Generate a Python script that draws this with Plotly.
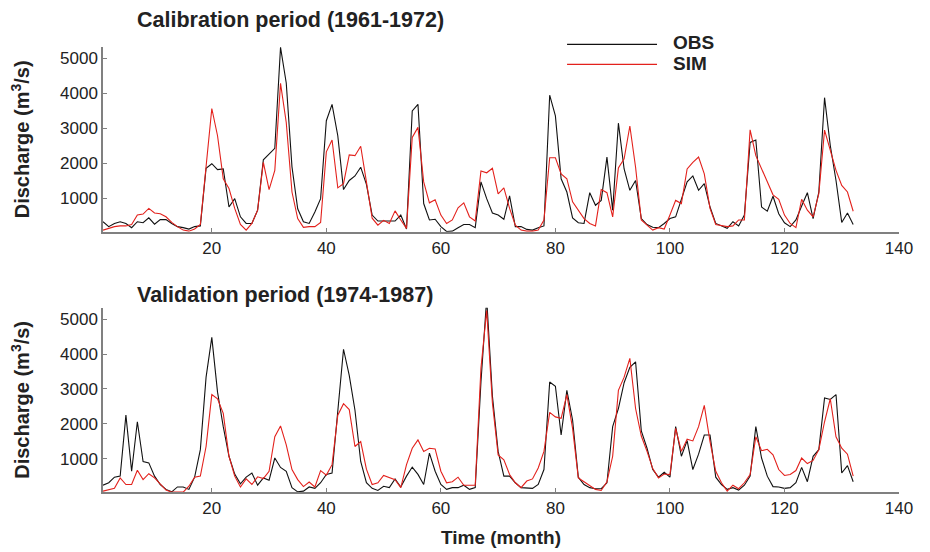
import plotly.graph_objects as go
from plotly.subplots import make_subplots

## dados (vazao mensal, m3/s)
meses = list(range(1, 133))

cal_obs = [330, 190, 280, 330, 280, 160, 330, 300, 440, 260, 390, 390, 280, 190, 160, 120, 190, 210,
           1860, 1990, 1820, 1840, 750, 990, 470, 280, 280, 660, 2100, 2270, 2430, 5320, 4300, 1900,
           700, 330, 280, 610, 990, 3220, 3690, 2790, 1250, 1510, 1640, 1890, 1400, 520, 350, 350,
           350, 350, 520, 120, 3500, 3690, 850, 380, 400, 190, 50, 60, 160, 250, 250, 160, 1470, 990,
           580, 520, 400, 1070, 190, 190, 110, 90, 160, 210, 3950, 3360, 1560, 1180, 440, 300, 280,
           1160, 800, 940, 2180, 660, 3150, 1840, 1230, 1510, 420, 250, 170, 160, 280, 420, 470, 990,
           1470, 1640, 1230, 1420, 750, 280, 210, 140, 330, 210, 520, 2600, 2670, 750, 630, 1060, 560,
           300, 190, 380, 780, 1160, 420, 1180, 3880, 2510, 1510, 310, 580, 250]

cal_sim = [90, 140, 190, 210, 210, 250, 520, 550, 710, 580, 560, 470, 310, 190, 90, 60, 120, 250,
           1840, 3570, 2790, 1560, 1280, 710, 250, 90, 280, 660, 2030, 1250, 1800, 4290, 3170, 1180,
           420, 170, 190, 190, 310, 2330, 2670, 1300, 1420, 2240, 2220, 2490, 1470, 430, 230, 370,
           280, 640, 380, 140, 2740, 3030, 1470, 870, 960, 520, 280, 380, 730, 870, 470, 350, 1780,
           1730, 1860, 1130, 1300, 710, 230, 90, 60, 60, 90, 380, 2160, 2160, 1700, 1560, 900, 660,
           420, 280, 210, 1250, 1160, 470, 1870, 2130, 3070, 1890, 380, 230, 90, 160, 120, 520, 940,
           850, 1840, 2030, 2180, 1700, 710, 250, 210, 190, 210, 380, 380, 2960, 2220, 1840, 1510,
           1100, 970, 520, 280, 160, 970, 660, 470, 1130, 2950, 2410, 1800, 1370, 1180, 630]

val_obs = [240, 310, 470, 500, 2250, 640, 2060, 920, 880, 500, 260, 120, 50, 190, 190, 120, 470, 1260,
           3340, 4480, 2910, 1920, 1070, 560, 280, 470, 590, 240, 450, 380, 1020, 750, 640, 170, 50,
           70, 190, 150, 310, 550, 590, 2390, 4140, 3390, 2390, 920, 310, 150, 90, 210, 170, 420, 190,
           500, 760, 550, 260, 1160, 640, 260, 120, 170, 170, 240, 120, 170, 3200, 5600, 2800, 1210,
           500, 500, 310, 170, 150, 150, 260, 690, 3200, 3080, 1680, 2960, 2110, 470, 260, 170, 140,
           140, 310, 1920, 2440, 3180, 3620, 3780, 1800, 1300, 690, 470, 610, 470, 1920, 1070, 1520,
           690, 1130, 1680, 1680, 470, 260, 120, 170, 100, 240, 500, 1920, 1020, 500, 200, 190, 150,
           170, 310, 750, 340, 1070, 1260, 2740, 2700, 2840, 590, 800, 340]

val_sim = [70, 120, 150, 450, 260, 260, 670, 400, 570, 450, 280, 100, 40, 40, 40, 210, 470, 500,
           1350, 2840, 2720, 2300, 1070, 500, 190, 420, 260, 480, 430, 640, 1630, 1940, 1400, 690,
           400, 200, 330, 190, 660, 530, 830, 2250, 2580, 2410, 1350, 1490, 700, 260, 310, 520, 470,
           400, 170, 830, 1300, 1540, 1210, 1300, 1280, 640, 310, 340, 470, 240, 240, 240, 3600, 5250,
           2600, 1110, 970, 545, 310, 170, 360, 420, 735, 1210, 2330, 2200, 2160, 2840, 1870, 450,
           340, 240, 120, 90, 340, 1070, 2960, 3340, 3880, 2440, 1650, 1210, 715, 450, 560, 545, 1870,
           1210, 1560, 1510, 1920, 2530, 1490, 640, 310, 70, 240, 140, 310, 545, 1630, 1230, 1270,
           1110, 690, 520, 545, 660, 1020, 860, 950, 1260, 2060, 2720, 1630, 1300, 1130, 500]

x_ticks = [20, 40, 60, 80, 100, 120, 140]
y_ticks = [1000, 2000, 3000, 4000, 5000]

## figura
fig = make_subplots(rows=2, cols=1)

fonte = "Liberation Sans Narrow, Arial Narrow, Liberation Sans, Arial, sans-serif"
preto = "#111111"
vermelho = "#e3211c"
texto = "#222222"

for row, obs, sim in [(1, cal_obs, cal_sim), (2, val_obs, val_sim)]:
    fig.add_trace(go.Scatter(x=meses, y=obs, mode="lines", name="OBS", showlegend=False,
                             line=dict(color=preto, width=1.1)), row=row, col=1)
    fig.add_trace(go.Scatter(x=meses, y=sim, mode="lines", name="SIM", showlegend=False,
                             line=dict(color=vermelho, width=1.1)), row=row, col=1)

eixo = dict(showline=True, linecolor="#808080", linewidth=1.5, ticks="inside", ticklen=4,
            tickcolor="#808080", showgrid=False, zeroline=False, mirror=False, automargin=False,
            tickfont=dict(family=fonte, size=17, color=texto))

fig.update_xaxes(eixo, range=[1, 140], tickvals=x_ticks)
fig.update_yaxes(eixo, range=[45, 5330], tickvals=y_ticks,
                 title=dict(text="<b>Discharge (m<sup>3</sup>/s)</b>",
                            font=dict(family=fonte, size=20, color=texto), standoff=28))
fig.update_xaxes(title=dict(text="<b>Time (month)</b>", font=dict(family=fonte, size=19, color=texto),
                            standoff=14), row=2, col=1)

# a pagina tem 8px de margem no body, por isso 922x544
fig.update_layout(
    width=922, height=544,
    plot_bgcolor="white", paper_bgcolor="white",
    margin=dict(l=95, r=31, t=39, b=60),
    xaxis=dict(domain=[0, 1]), xaxis2=dict(domain=[0, 1]),
    yaxis=dict(domain=[0.585, 1]), yaxis2=dict(domain=[0, 0.414]),
    showlegend=False,
)

## legenda desenhada a mao (linhas longas como no original)
for nome, cor, yl in [("OBS", preto, 1.006), ("SIM", vermelho, 0.961)]:
    fig.add_shape(type="line", xref="paper", yref="paper", x0=0.583, x1=0.696, y0=yl, y1=yl,
                  line=dict(color=cor, width=1.1))
    fig.add_annotation(text="<b>" + nome + "</b>", xref="paper", yref="paper", x=0.713, y=yl + 0.003,
                       xanchor="left", yanchor="middle", showarrow=False,
                       font=dict(family=fonte, size=19, color=texto))

fig.add_annotation(text="<b>Calibration period (1961-1972)</b>", xref="paper", yref="paper",
                   x=0.04, y=1.061, xanchor="left", yanchor="middle", showarrow=False,
                   font=dict(family=fonte, size=21.5, color=texto))
fig.add_annotation(text="<b>Validation period (1974-1987)</b>", xref="paper", yref="paper",
                   x=0.04, y=0.443, xanchor="left", yanchor="middle", showarrow=False,
                   font=dict(family=fonte, size=21.5, color=texto))

fig.write_html("out.html")
